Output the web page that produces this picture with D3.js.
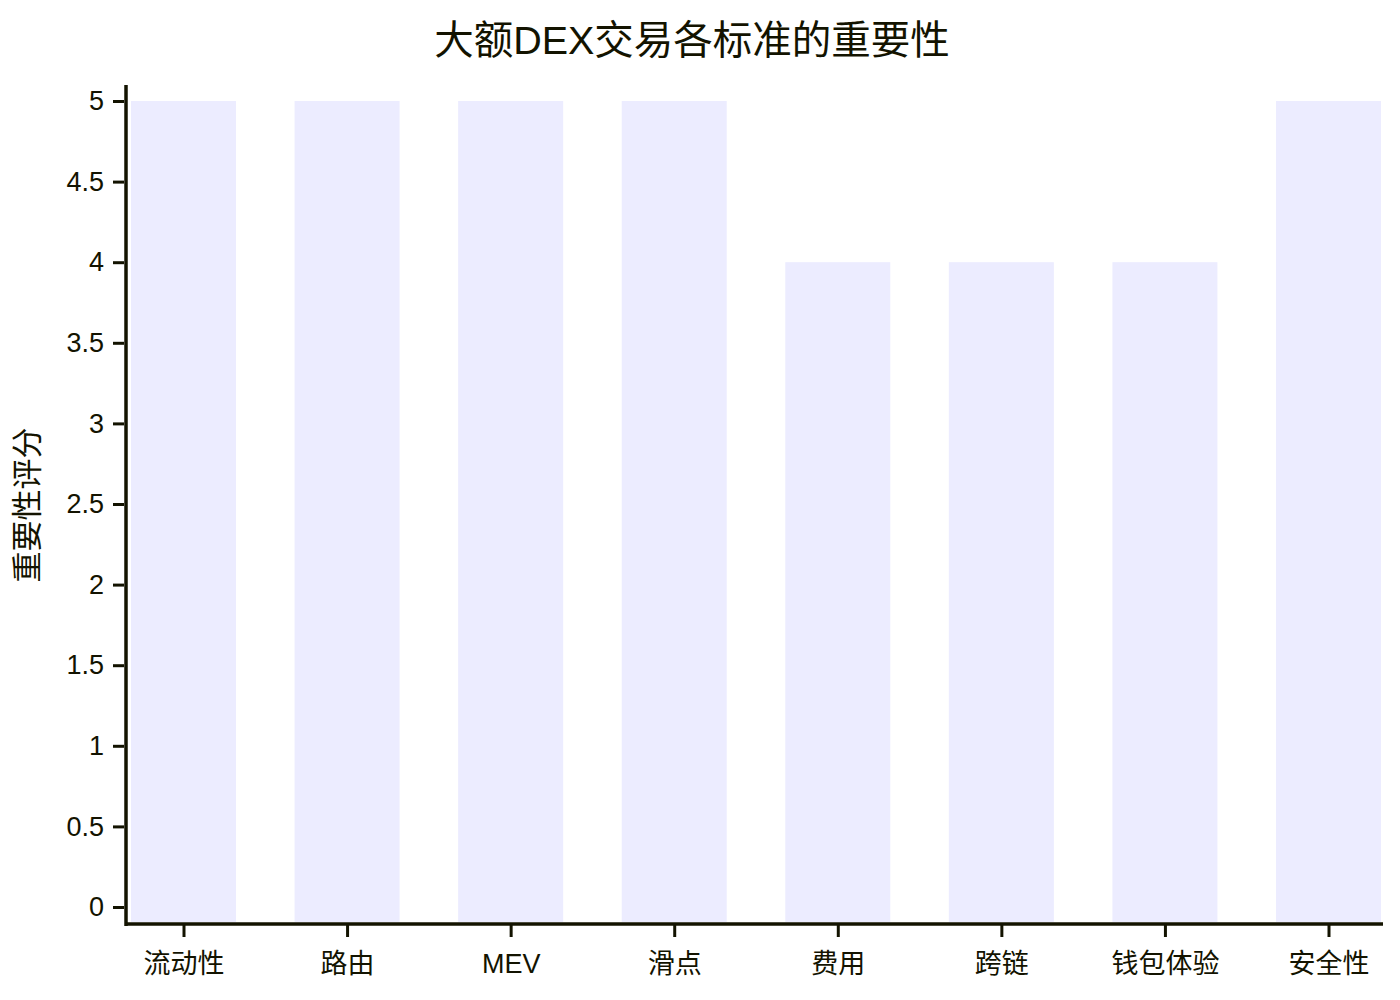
<!DOCTYPE html>
<html>
<head>
<meta charset="utf-8">
<script src="https://cdn.jsdelivr.net/npm/d3@7/dist/d3.min.js"></script>
<style>
  body { margin: 0; background: #fff; }
  text { font-family: "Liberation Sans", Arial, "Noto Sans CJK SC", sans-serif; fill: #131300; }
</style>
</head>
<body>
<div id="chart"></div>
<script>
const title = "大额DEX交易各标准的重要性"
const yTitle = "重要性评分"
const categories = ["流动性", "路由", "MEV", "滑点", "费用", "跨链", "钱包体验", "安全性"]
const scores = [5, 5, 5, 5, 4, 4, 4, 5]
const yTicks = [0, 0.5, 1, 1.5, 2, 2.5, 3, 3.5, 4, 4.5, 5]

const width = 1400, height = 1000
const ink = "#131300"

const svg = d3.select("#chart").append("svg")
  .attr("width", width).attr("height", height)

// zone du graphique
const plotLeft = 126, plotRight = 1383, plotTop = 85, plotBottom = 922

const x = d3.scalePoint().domain(categories).range([183.5, 1328.5])
const y = d3.scaleLinear().domain([0, 5]).range([907, 101])
const barW = x.step() * 0.642

// barres
svg.append("g").selectAll("rect")
  .data(categories)
  .enter()
  .append("rect")
  .attr("x", d => x(d) - barW / 2)
  .attr("y", (d, i) => y(scores[i]))
  .attr("width", barW)
  .attr("height", (d, i) => plotBottom - y(scores[i]))
  .attr("fill", "#ECECFF")

// axe Y
const yAxis = svg.append("g")
  .attr("transform", `translate(${plotLeft - 2},0)`)
  .call(d3.axisLeft(y).tickValues(yTicks).tickSize(11).tickPadding(9).tickSizeOuter(0).tickFormat(d3.format("")))
yAxis.select(".domain").remove()
yAxis.selectAll(".tick line").attr("stroke", ink).attr("stroke-width", 3)
yAxis.selectAll(".tick text").attr("font-size", 27).style("fill", ink)

svg.append("line")
  .attr("x1", plotLeft).attr("x2", plotLeft)
  .attr("y1", plotTop).attr("y2", plotBottom + 4)
  .attr("stroke", ink).attr("stroke-width", 3.5)

// axe X
const xAxis = svg.append("g")
  .attr("transform", `translate(0,${plotBottom + 3})`)
  .call(d3.axisBottom(x).tickSize(12).tickPadding(17).tickSizeOuter(0))
xAxis.select(".domain").remove()
xAxis.selectAll(".tick line").attr("stroke", ink).attr("stroke-width", 3)
xAxis.selectAll(".tick text").attr("font-size", 27).style("fill", ink)

svg.append("line")
  .attr("x1", plotLeft).attr("x2", plotRight)
  .attr("y1", plotBottom + 2).attr("y2", plotBottom + 2)
  .attr("stroke", ink).attr("stroke-width", 3.5)

// titres
svg.append("text")
  .attr("x", 692).attr("y", 40)
  .attr("text-anchor", "middle")
  .attr("dominant-baseline", "central")
  .attr("font-size", 39.5)
  .text(title)

svg.append("text")
  .attr("transform", "translate(27,505) rotate(-90)")
  .attr("text-anchor", "middle")
  .attr("dominant-baseline", "central")
  .attr("font-size", 31)
  .text(yTitle)
</script>
</body>
</html>
